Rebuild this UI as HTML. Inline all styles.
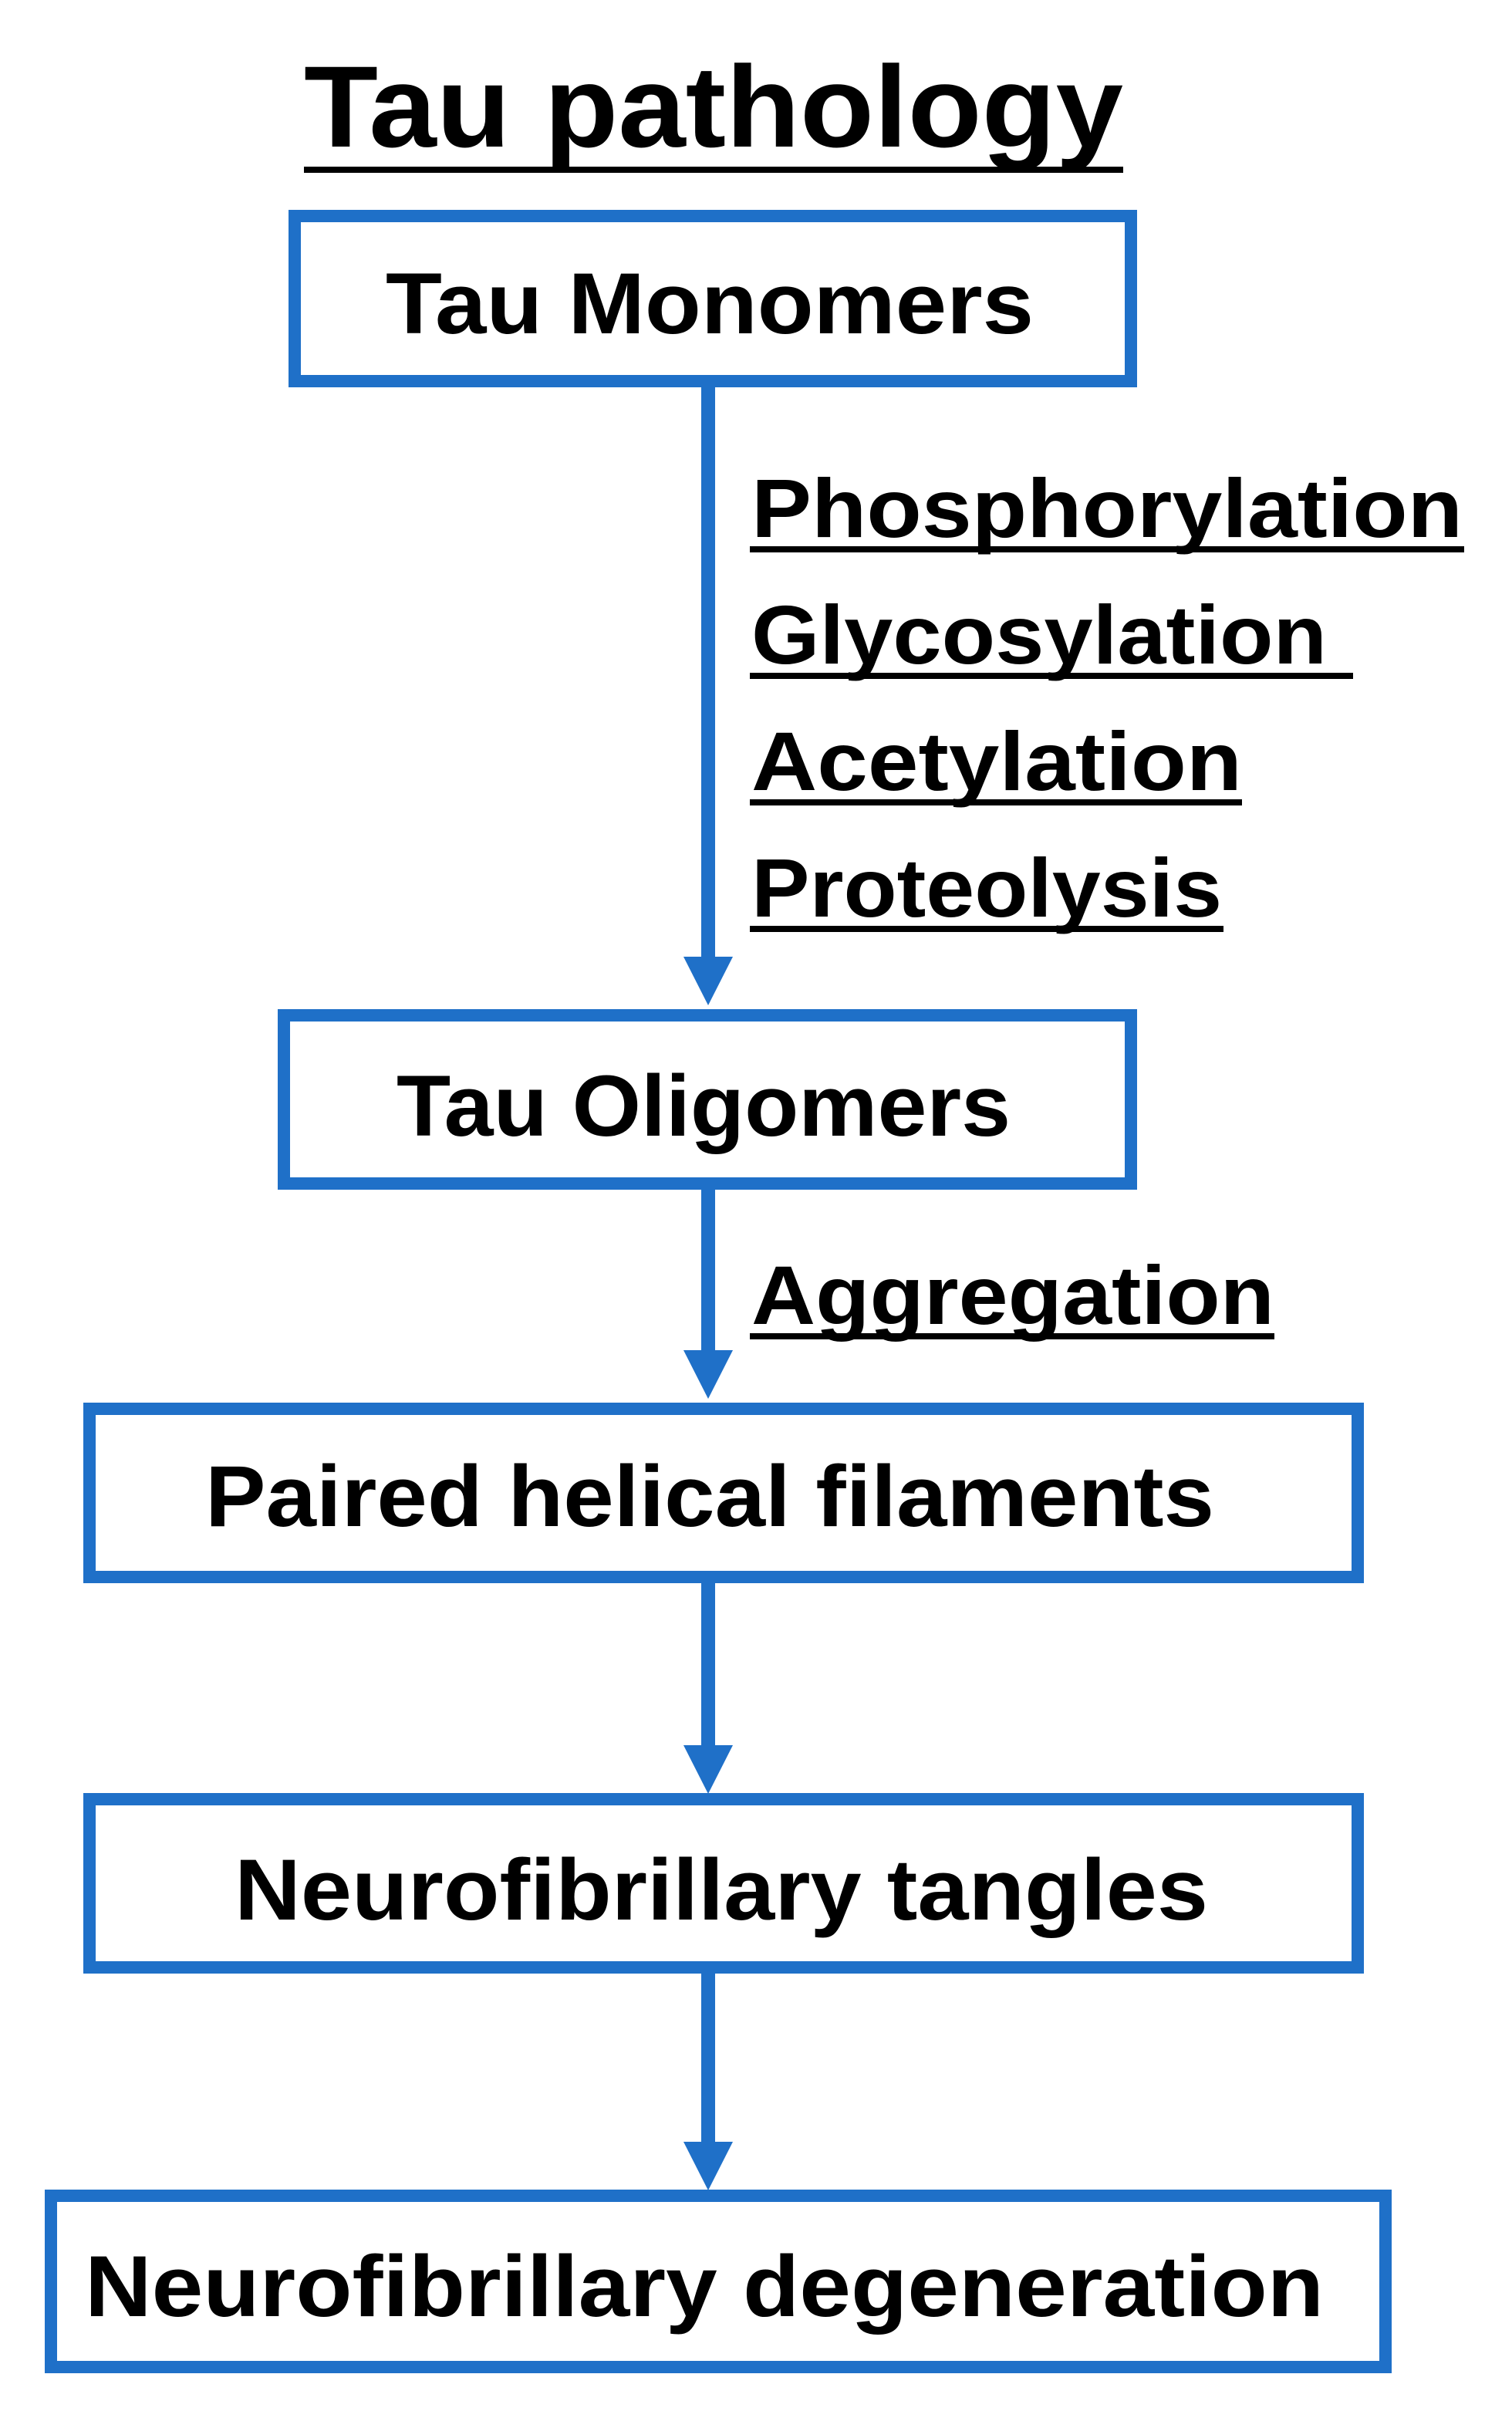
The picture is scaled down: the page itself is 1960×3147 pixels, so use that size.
<!DOCTYPE html>
<html><head><meta charset="utf-8"><style>html,body{margin:0;padding:0;background:#fff}svg{display:block}</style></head>
<body>
<svg width="1960" height="3147" viewBox="0 0 1960 3147" xmlns="http://www.w3.org/2000/svg">
<g fill="none" stroke="#1f70c8" stroke-width="16">
<rect x="382" y="280" width="1084" height="214"/>
<rect x="368" y="1316" width="1098" height="218"/>
<rect x="116" y="1826" width="1644" height="218"/>
<rect x="116" y="2332" width="1644" height="218"/>
<rect x="66" y="2846" width="1730" height="222"/>
<line x1="918" y1="500" x2="918" y2="1250" stroke-width="18"/>
<line x1="918" y1="1540" x2="918" y2="1750" stroke-width="18"/>
<line x1="918" y1="2050" x2="918" y2="2262" stroke-width="18"/>
<line x1="918" y1="2556" x2="918" y2="2776" stroke-width="18"/>
</g>
<g fill="#1f70c8">
<polygon points="886,1240 950,1240 918,1303"/>
<polygon points="886,1750 950,1750 918,1813"/>
<polygon points="886,2262 950,2262 918,2325"/>
<polygon points="886,2776 950,2776 918,2839"/>
</g>
<g font-family="Liberation Sans, sans-serif" font-weight="bold" fill="#000">
<text x="394" y="190" font-size="150" textLength="1062" lengthAdjust="spacingAndGlyphs">Tau pathology</text>
<text x="500" y="432" font-size="112" textLength="840" lengthAdjust="spacingAndGlyphs">Tau Monomers</text>
<text x="514" y="1472" font-size="112" textLength="796" lengthAdjust="spacingAndGlyphs">Tau Oligomers</text>
<text x="266" y="1978" font-size="112" textLength="1308" lengthAdjust="spacingAndGlyphs">Paired helical filaments</text>
<text x="304" y="2488" font-size="112" textLength="1262" lengthAdjust="spacingAndGlyphs">Neurofibrillary tangles</text>
<text x="110" y="3002" font-size="112" textLength="1606" lengthAdjust="spacingAndGlyphs">Neurofibrillary degeneration</text>
<text x="974" y="696" font-size="108" textLength="922" lengthAdjust="spacingAndGlyphs">Phosphorylation</text>
<text x="974" y="860" font-size="108" textLength="746" lengthAdjust="spacingAndGlyphs">Glycosylation</text>
<text x="974" y="1024" font-size="108" textLength="636" lengthAdjust="spacingAndGlyphs">Acetylation</text>
<text x="974" y="1188" font-size="108" textLength="610" lengthAdjust="spacingAndGlyphs">Proteolysis</text>
<text x="974" y="1716" font-size="108" textLength="678" lengthAdjust="spacingAndGlyphs">Aggregation</text>
</g>
<g stroke="#000" stroke-width="8">
<line x1="394" y1="220" x2="1456" y2="220"/>
<line x1="972" y1="712" x2="1898" y2="712"/>
<line x1="972" y1="876" x2="1754" y2="876"/>
<line x1="972" y1="1040" x2="1610" y2="1040"/>
<line x1="972" y1="1204" x2="1586" y2="1204"/>
<line x1="972" y1="1732" x2="1652" y2="1732"/>
</g>
</svg>
</body></html>
